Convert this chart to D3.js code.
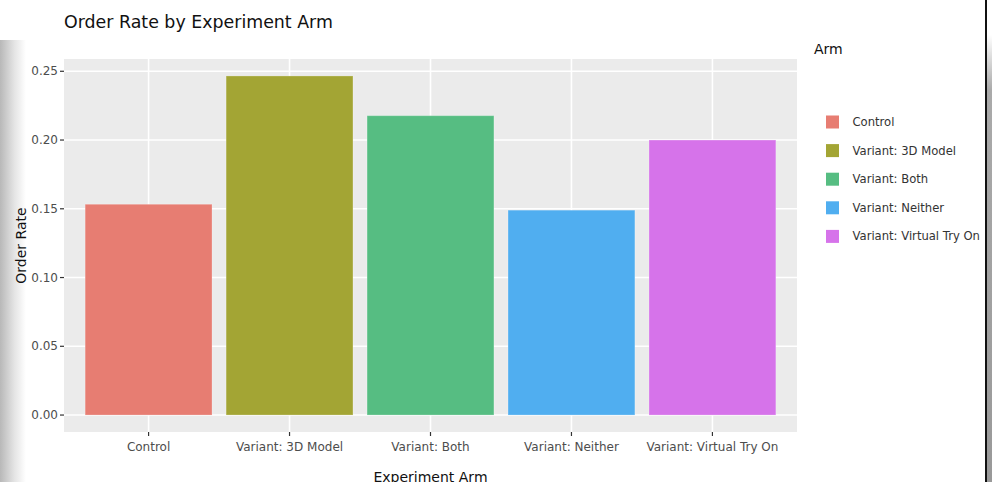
<!DOCTYPE html>
<html lang="en">
<head>
  <meta charset="UTF-8">
  <title>Order Rate by Experiment Arm</title>
  <script src="https://cdn.jsdelivr.net/npm/d3@7.8.5/dist/d3.min.js"></script>
  <style>
    html, body { margin: 0; padding: 0; background: #fff; }
    body { font-family: 'DejaVu Sans', Verdana, sans-serif; width: 992px; height: 482px; overflow: hidden; position: relative; }
    .shade-left { position: absolute; left: 0; top: 40px; width: 26px; height: 442px;
      background: linear-gradient(to right, #b8b8b8, #e4e4e4 55%, rgba(255,255,255,0)); }
    .edge-right { position: absolute; left: 985px; top: 0; width: 2px; height: 482px; background: #111; }
    .shade-right { position: absolute; left: 987px; top: 0; width: 5px; height: 482px;
      background: linear-gradient(to bottom, #fff 0px, #fff 35px, #aaa 90px, #999); }
  </style>
</head>
<body>
  <div class="shade-left"></div>
  <svg id="chart" width="992" height="482" style="position:absolute;left:0;top:0"></svg>
  <div class="edge-right"></div>
  <div class="shade-right"></div>
  <script>
    // data
    const arms = ["Control", "Variant: 3D Model", "Variant: Both", "Variant: Neither", "Variant: Virtual Try On"];
    const orderRate = [0.1533, 0.2466, 0.2177, 0.1490, 0.2000];
    const armColors = ["#E77D72", "#A3A534", "#56BD82", "#50AEF0", "#D673EA"];
    const yTicks = [0, 0.05, 0.10, 0.15, 0.20, 0.25];

    const svg = d3.select("#chart");
    const panel = { left: 64, right: 797, top: 59, bottom: 432 };

    // ggplot-like expansion: 5% continuous, 0.6 units discrete
    const yMax = d3.max(orderRate);
    const y = d3.scaleLinear()
      .domain([-yMax * 0.05, yMax * 1.05])
      .range([panel.bottom, panel.top]);
    const x = d3.scaleLinear()
      .domain([1 - 0.6, arms.length + 0.6])
      .range([panel.left, panel.right]);
    const barW = (x(2) - x(1)) * 0.9;

    svg.append("text")
      .attr("x", 64).attr("y", 28)
      .attr("font-size", 17.4).attr("fill", "#111")
      .text("Order Rate by Experiment Arm");

    svg.append("rect")
      .attr("x", panel.left).attr("y", panel.top)
      .attr("width", panel.right - panel.left).attr("height", panel.bottom - panel.top)
      .attr("fill", "#EBEBEB");

    const grid = svg.append("g").attr("stroke", "#fff").attr("stroke-width", 1.6);
    grid.selectAll("line.h").data(yTicks).enter().append("line")
      .attr("x1", panel.left).attr("x2", panel.right)
      .attr("y1", d => y(d)).attr("y2", d => y(d));
    grid.selectAll("line.v").data(arms).enter().append("line")
      .attr("y1", panel.top).attr("y2", panel.bottom)
      .attr("x1", (d, i) => x(i + 1)).attr("x2", (d, i) => x(i + 1));

    svg.append("g")
      .selectAll("rect")
      .data(arms)
      .enter()
      .append("rect")
      .attr("x", (d, i) => x(i + 1) - barW / 2)
      .attr("y", (d, i) => y(orderRate[i]))
      .attr("width", barW)
      .attr("height", (d, i) => y(0) - y(orderRate[i]))
      .attr("fill", (d, i) => armColors[i])
      .attr("stroke", "rgba(255,255,255,0.25)")
      .attr("stroke-width", 1);

    // y axis
    const yAxis = svg.append("g");
    yAxis.selectAll("line").data(yTicks).enter().append("line")
      .attr("x1", panel.left - 4).attr("x2", panel.left)
      .attr("y1", d => y(d)).attr("y2", d => y(d))
      .attr("stroke", "#333").attr("stroke-width", 1.2);
    yAxis.selectAll("text").data(yTicks).enter().append("text")
      .attr("x", panel.left - 6).attr("y", d => y(d))
      .attr("dy", "0.35em").attr("text-anchor", "end")
      .attr("font-size", 12).attr("fill", "#4D4D4D")
      .text(d => d3.format(".2f")(d));

    // x axis
    const xAxis = svg.append("g");
    xAxis.selectAll("line").data(arms).enter().append("line")
      .attr("x1", (d, i) => x(i + 1)).attr("x2", (d, i) => x(i + 1))
      .attr("y1", panel.bottom).attr("y2", panel.bottom + 4)
      .attr("stroke", "#333").attr("stroke-width", 1.2);
    xAxis.selectAll("text").data(arms).enter().append("text")
      .attr("x", (d, i) => x(i + 1)).attr("y", panel.bottom + 19)
      .attr("text-anchor", "middle")
      .attr("font-size", 12).attr("fill", "#4D4D4D")
      .text(d => d);

    svg.append("text")
      .attr("x", (panel.left + panel.right) / 2).attr("y", 482)
      .attr("text-anchor", "middle").attr("font-size", 14).attr("fill", "#111")
      .text("Experiment Arm");

    svg.append("text")
      .attr("transform", `translate(26,${(panel.top + panel.bottom) / 2}) rotate(-90)`)
      .attr("text-anchor", "middle").attr("font-size", 14).attr("fill", "#111")
      .text("Order Rate");

    // legend
    svg.append("text")
      .attr("x", 814).attr("y", 54)
      .attr("font-size", 14).attr("fill", "#111")
      .text("Arm");
    const legend = svg.append("g")
      .selectAll("g")
      .data(arms)
      .enter()
      .append("g")
      .attr("transform", (d, i) => `translate(826,${122 + i * 28.6})`);
    legend.append("rect")
      .attr("x", 0).attr("y", -6.5)
      .attr("width", 13).attr("height", 13)
      .attr("fill", (d, i) => armColors[i]);
    legend.append("text")
      .attr("x", 26.5).attr("dy", "0.35em")
      .attr("font-size", 11.6).attr("fill", "#333")
      .text(d => d);
  </script>
</body>
</html>
